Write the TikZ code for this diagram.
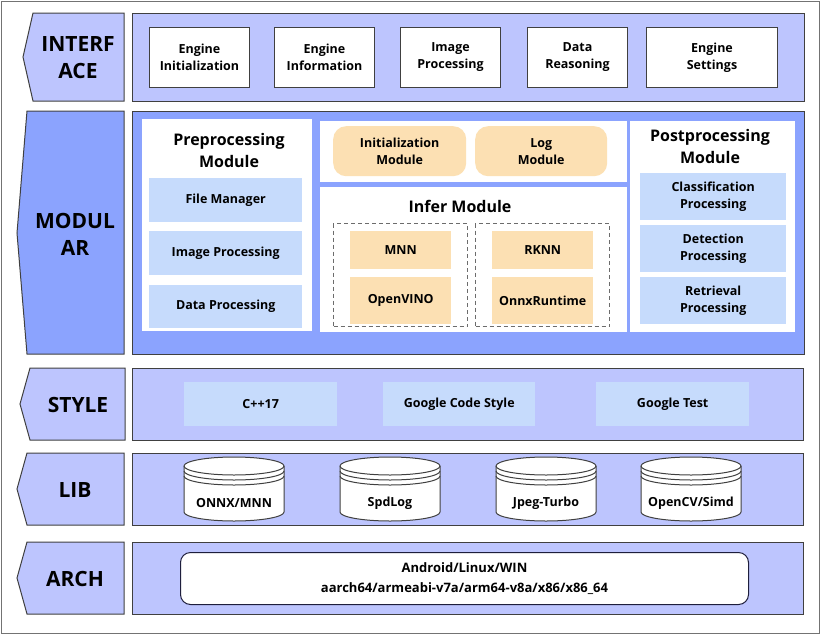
\documentclass[tikz,border=0pt]{standalone}
\usepackage{fontspec}
\setmainfont{Open Sans}
\definecolor{layerblue}{HTML}{BDC5FE}
\definecolor{modblue}{HTML}{8BA3FE}
\definecolor{itemblue}{HTML}{C6DBFC}
\definecolor{itemorange}{HTML}{FCE0B3}
\definecolor{edge}{HTML}{404040}
\definecolor{archedge}{HTML}{1E1E3C}
\tikzset{
  tag/.style={draw=edge, line width=1pt, fill=layerblue},
  tagtext/.style={font=\fontsize{21}{27}\selectfont\bfseries, align=center},
  layer/.style={draw=edge, line width=1pt, fill=layerblue, anchor=north west, inner sep=0pt},
  cell/.style={anchor=north west, inner sep=0pt, align=center, font=\fontsize{12.5}{17}\selectfont\bfseries},
  eng/.style={cell, draw=edge, line width=1pt, fill=white, minimum height=60},
  panel/.style={anchor=north west, inner sep=0pt, fill=white},
  title/.style={font=\fontsize{16}{22}\selectfont\bfseries, align=center},
  blueitem/.style={cell, fill=itemblue},
  orangeitem/.style={cell, fill=itemorange},
  dashbox/.style={anchor=north west, inner sep=0pt, draw=gray!85!black, line width=1pt, dash pattern=on 4pt off 3pt},
  libtext/.style={font=\fontsize{12.5}{17}\selectfont\bfseries},
  libdb/.pic={
    \filldraw[draw=edge, line width=1pt, fill=white] (-50,0) -- (-50,46)
      arc[start angle=180, end angle=360, x radius=50pt, y radius=9pt] -- (50,0)
      arc[start angle=0, end angle=180, x radius=50pt, y radius=9pt] -- cycle;
    \draw[edge, line width=1pt] (-50,0) arc[start angle=180, end angle=360, x radius=50pt, y radius=9pt];
    \draw[edge, line width=1pt] (-50,5) arc[start angle=180, end angle=360, x radius=50pt, y radius=9pt];
    \draw[edge, line width=1pt] (-50,10) arc[start angle=180, end angle=360, x radius=50pt, y radius=9pt];
  }
}
\begin{document}
\begin{tikzpicture}[x=1pt, y=-1pt]
  \useasboundingbox (0,0) rectangle (824,635);
  \draw[gray!90!black, line width=1pt] (1,1) rectangle (819.5,633.5);

  % INTERFACE
  \draw[tag] (33,13) -- (124,13) -- (124,101) -- (33,101) -- (23,57) -- cycle;
  \node[tagtext] (interface) at (78,58) {INTERF\\ACE};
  \node[layer, minimum width=672, minimum height=88] (ifbg) at (132,13) {};
  \node[eng, minimum width=100] (einit) at (149,27) {Engine\\Initialization};
  \node[eng, minimum width=100] (einfo) at (274,27) {Engine\\Information};
  \node[eng, minimum width=100] (eimg) at (400,27) {Image\\Processing};
  \node[eng, minimum width=100] (edata) at (527,27) {Data\\Reasoning};
  \node[eng, minimum width=131] (eset) at (646,27) {Engine\\Settings};

  % MODULAR
  \draw[tag, fill=modblue] (27,111) -- (124,111) -- (124,354) -- (27,354) -- (17,233) -- cycle;
  \node[tagtext] (modular) at (75,234) {MODUL\\AR};
  \node[layer, fill=modblue, minimum width=672, minimum height=243] (modbg) at (132,111) {};
  \node[panel, minimum width=170, minimum height=212] (pre) at (142,119) {};
  \node[title] (pretitle) at (229,150) {Preprocessing\\Module};
  \node[blueitem, minimum width=153, minimum height=44] (filemgr) at (149,178) {File Manager};
  \node[blueitem, minimum width=153, minimum height=44] (preimg) at (149,231) {Image Processing};
  \node[blueitem, minimum width=153, minimum height=43] (predata) at (149,285) {Data Processing};

  \node[panel, minimum width=307, minimum height=61] (top) at (320,121) {};
  \node[orangeitem, rounded corners=13, minimum width=133, minimum height=50] (initmod) at (333,126) {Initialization\\Module};
  \node[orangeitem, rounded corners=13, minimum width=132, minimum height=50] (logmod) at (475,126) {Log\\Module};

  \node[panel, minimum width=307, minimum height=145] (infer) at (320,187) {};
  \node[title] (infertitle) at (460,206) {Infer Module};
  \node[dashbox, minimum width=134, minimum height=103] (dleft) at (333,223) {};
  \node[dashbox, minimum width=134, minimum height=103] (dright) at (475,223) {};
  \node[orangeitem, minimum width=101, minimum height=38] (mnn) at (350,231) {MNN};
  \node[orangeitem, minimum width=101, minimum height=47] (openvino) at (350,277) {OpenVINO};
  \node[orangeitem, minimum width=101, minimum height=38] (rknn) at (492,231) {RKNN};
  \node[orangeitem, minimum width=101, minimum height=47] (onnxrt) at (492,277) {OnnxRuntime};

  \node[panel, minimum width=165, minimum height=211] (post) at (630,121) {};
  \node[title] (posttitle) at (710,146) {Postprocessing\\Module};
  \node[blueitem, minimum width=146, minimum height=47] (cls) at (640,173) {Classification\\Processing};
  \node[blueitem, minimum width=146, minimum height=47] (det) at (640,225) {Detection\\Processing};
  \node[blueitem, minimum width=146, minimum height=47] (ret) at (640,277) {Retrieval\\Processing};

  % STYLE
  \draw[tag] (30,368) -- (125,368) -- (125,440) -- (30,440) -- (20,404) -- cycle;
  \node[tagtext] (style) at (78,405) {STYLE};
  \node[layer, minimum width=671, minimum height=72] (stylebg) at (132,368) {};
  \node[blueitem, minimum width=153, minimum height=44] (cpp) at (184,382) {C++17};
  \node[blueitem, minimum width=152, minimum height=44] (gstyle) at (383,382) {Google Code Style};
  \node[blueitem, minimum width=153, minimum height=44] (gtest) at (596,382) {Google Test};

  % LIB
  \draw[tag] (27,453) -- (124,453) -- (124,525) -- (27,525) -- (17,489) -- cycle;
  \node[tagtext] (lib) at (75,490) {LIB};
  \node[layer, minimum width=671, minimum height=72] (libbg) at (132,453) {};
  \pic at (234,466) {libdb};
  \pic at (390,466) {libdb};
  \pic at (546,466) {libdb};
  \pic at (691,466) {libdb};
  \node[libtext] (onnx) at (234,503) {ONNX/MNN};
  \node[libtext] (spdlog) at (390,503) {SpdLog};
  \node[libtext] (jpeg) at (546,503) {Jpeg-Turbo};
  \node[libtext] (opencv) at (691,503) {OpenCV/Simd};

  % ARCH
  \draw[tag] (27,542) -- (124,542) -- (124,614) -- (27,614) -- (17,578) -- cycle;
  \node[tagtext] (arch) at (75,579) {ARCH};
  \node[layer, minimum width=671, minimum height=72] (archbg) at (132,542) {};
  \node[cell, draw=archedge, line width=1pt, fill=white, rounded corners=10, minimum width=568, minimum height=52, font=\fontsize{13}{20}\selectfont\bfseries] (platform) at (180,552) {Android/Linux/WIN\\aarch64/armeabi-v7a/arm64-v8a/x86/x86\_64};
\end{tikzpicture}
\end{document}
